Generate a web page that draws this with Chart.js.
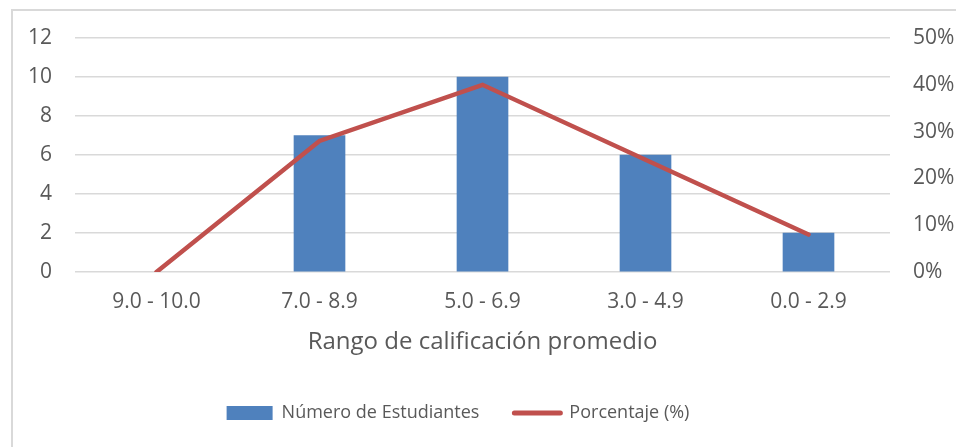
<!DOCTYPE html>
<html>
<head>
<meta charset="utf-8">
<script src="https://cdn.jsdelivr.net/npm/chart.js@4.4.0/dist/chart.umd.min.js"></script>
<style>
  html, body { margin: 0; padding: 0; background: #fff; overflow: hidden; }
  #wrap { position: relative; width: 956px; height: 447px; }
  #frame { position: absolute; left: 11px; top: 9px; width: 1000px; height: 500px; border: 2px solid #d9d9d9; box-sizing: border-box; }
  canvas { position: absolute; left: 0; top: 0; }
</style>
</head>
<body>
<div id="wrap">
  <div id="frame"></div>
  <canvas id="chart" width="956" height="447"></canvas>
</div>
<script>
// data
const ranges = ['9.0 - 10.0', '7.0 - 8.9', '5.0 - 6.9', '3.0 - 4.9', '0.0 - 2.9'];
const students = [0, 7, 10, 6, 2];
const percent = [0, 28, 40, 24, 8];
const leftTicks = [0, 2, 4, 6, 8, 10, 12];
const rightTicks = [0, 10, 20, 30, 40, 50];

const textColor = '#595959';
const gridColor = '#d9d9d9';
const barColor = '#4f81bd';
const lineColor = '#c0504d';
const fontFamily = '"Open Sans", "Liberation Sans", sans-serif';

// legend sits a bit left of centre in the original
const legendShift = {
  id: 'legendShift',
  afterLayout(chart) {
    if (chart.legend) chart.legend.right -= 40;
  }
};

new Chart(document.getElementById('chart'), {
  type: 'bar',
  data: {
    labels: ranges,
    datasets: [{
      label: 'Número de Estudiantes',
      data: students,
      // zero-height bar should not leave a sliver on the axis
      backgroundColor: (ctx) => ctx.raw === 0 ? 'rgba(0,0,0,0)' : barColor,
      borderWidth: 0,
      barThickness: 51,
      yAxisID: 'y',
      order: 2
    }, {
      type: 'line',
      label: 'Porcentaje (%)',
      data: percent,
      borderColor: lineColor,
      backgroundColor: lineColor,
      borderWidth: 4.5,
      borderCapStyle: 'round',
      pointRadius: 0,
      tension: 0,
      yAxisID: 'y1',
      order: 1
    }]
  },
  plugins: [legendShift],
  options: {
    responsive: false,
    animation: false,
    layout: { padding: { top: 38, bottom: 18, left: 0, right: 0 } },
    plugins: {
      tooltip: { enabled: false },
      legend: {
        position: 'bottom',
        maxHeight: 60,
        labels: {
          usePointStyle: true,
          pointStyleWidth: 46,
          boxHeight: 14,
          padding: 35,
          color: textColor,
          font: { family: fontFamily, size: 18 },
          generateLabels: (chart) => chart.data.datasets.map((ds, i) => ({
            text: ds.label,
            fillStyle: ds.type === 'line' ? lineColor : barColor,
            strokeStyle: ds.type === 'line' ? lineColor : barColor,
            lineWidth: ds.type === 'line' ? 5 : 0,
            lineCap: 'round',
            pointStyle: ds.type === 'line' ? 'line' : 'rect',
            fontColor: textColor,
            datasetIndex: i,
            hidden: false
          }))
        }
      }
    },
    scales: {
      x: {
        grid: { display: false, drawTicks: false },
        border: { display: false },
        ticks: { color: textColor, font: { family: fontFamily, size: 21 }, padding: 17, maxRotation: 0 },
        title: {
          display: true,
          text: 'Rango de calificación promedio',
          color: textColor,
          font: { family: fontFamily, size: 24 },
          padding: { top: 0, bottom: 12 }
        },
        afterFit: (scale) => { scale.height = 97; }
      },
      y: {
        position: 'left',
        min: 0,
        max: 12,
        afterBuildTicks: (scale) => { scale.ticks = leftTicks.map(v => ({ value: v })); },
        grid: { color: gridColor, lineWidth: 1.5, drawTicks: false },
        border: { display: false },
        ticks: { color: textColor, font: { family: fontFamily, size: 21 }, padding: 23 },
        afterFit: (scale) => { scale.width = 75; }
      },
      y1: {
        position: 'right',
        min: 0,
        max: 50,
        afterBuildTicks: (scale) => { scale.ticks = rightTicks.map(v => ({ value: v })); },
        grid: { display: false, drawTicks: false },
        border: { display: false },
        ticks: {
          color: textColor,
          font: { family: fontFamily, size: 21 },
          padding: 23,
          callback: (v) => v + '%'
        },
        afterFit: (scale) => { scale.width = 66; }
      }
    }
  }
});
</script>
</body>
</html>
